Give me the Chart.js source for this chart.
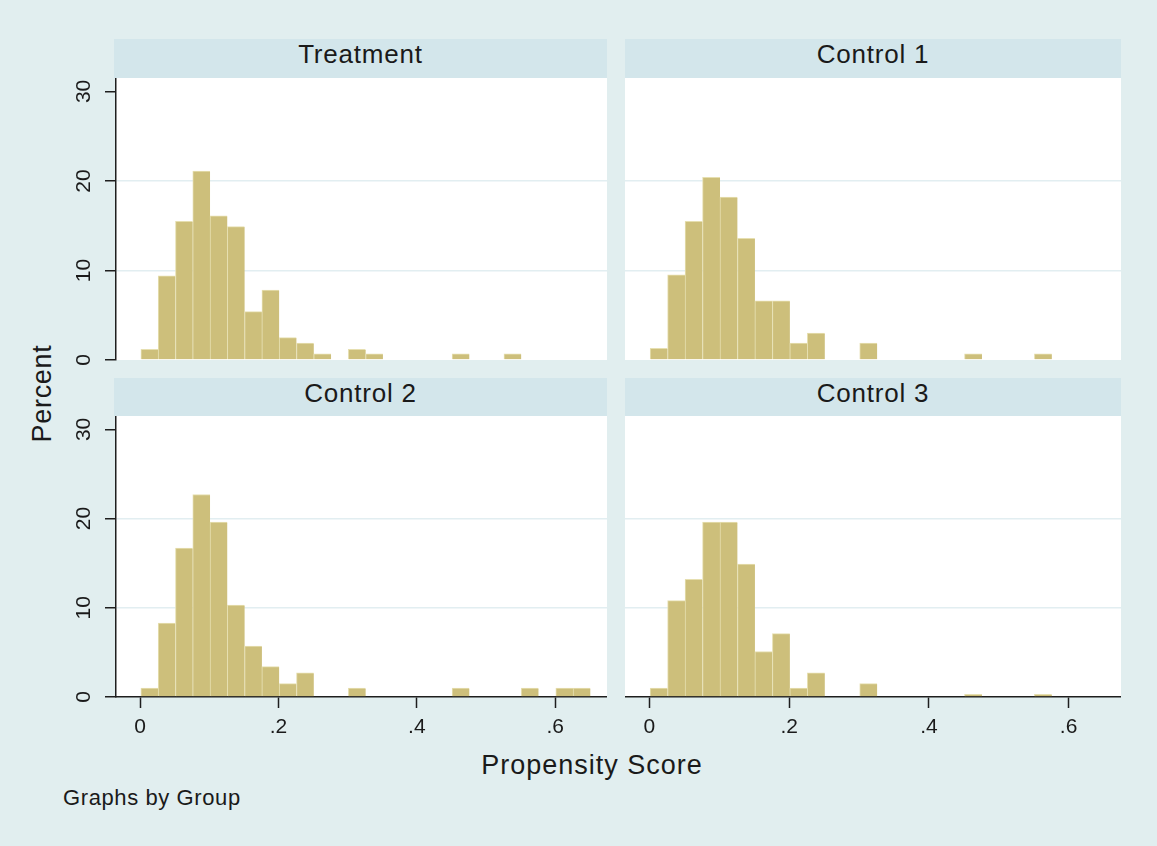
<!DOCTYPE html>
<html>
<head>
<meta charset="utf-8">
<title>Propensity Score by Group</title>
<script src="https://cdn.jsdelivr.net/npm/chart.js@4.4.1/dist/chart.umd.min.js"></script>
<style>
    body { margin: 0; background: #e1eeef; }
    #page {
        position: relative;
        width: 1157px;
        height: 846px;
        background: #e1eeef;
        font-family: 'Liberation Sans', Arial, sans-serif;
        color: #1a1a1a;
        overflow: hidden;
    }
    #page canvas { position: absolute; }
    .strip {
        position: absolute;
        background: #d3e6eb;
        text-align: center;
        font-size: 26px;
        line-height: 26px;
        padding-top: 2px;
        box-sizing: border-box;
        letter-spacing: 0.8px;
    }
    .label { position: absolute; white-space: nowrap; }
    #yTitle {
        left: -18px; top: 380px; width: 120px; text-align: center;
        font-size: 27px; line-height: 27px; letter-spacing: 0.7px;
        transform: rotate(-90deg);
    }
    #xTitle {
        left: 392px; top: 752px; width: 400px; text-align: center;
        font-size: 27px; line-height: 27px; letter-spacing: 1px;
    }
    #note {
        left: 63px; top: 787px;
        font-size: 22px; line-height: 22px; letter-spacing: 0.6px;
    }
</style>
</head>
<body>
<div id="page">
    <div class="label" id="yTitle">Percent</div>
    <div class="label" id="xTitle">Propensity Score</div>
    <div class="label" id="note">Graphs by Group</div>
</div>
<script>
// histogram bins (width .025), percent of group in each bin
const binCenters = [0.0135, 0.0385, 0.0635, 0.0885, 0.1135, 0.1385, 0.1635, 0.1885, 0.2135, 0.2385,
                    0.2635, 0.2885, 0.3135, 0.3385, 0.3635, 0.3885, 0.4135, 0.4385, 0.4635, 0.4885,
                    0.5135, 0.5385, 0.5635, 0.5885, 0.6135, 0.6385];
const treatment = [1.2, 9.4, 15.5, 21.1, 16.1, 14.9, 5.4, 7.8, 2.5, 1.9,
                   0.7, 0, 1.2, 0.7, 0, 0, 0, 0, 0.7, 0,
                   0, 0.7, 0, 0, 0, 0];
const control1 = [1.3, 9.5, 15.5, 20.4, 18.2, 13.6, 6.6, 6.6, 1.9, 3.0,
                  0, 0, 1.9, 0, 0, 0, 0, 0, 0.7, 0,
                  0, 0, 0.7, 0, 0, 0];
const control2 = [1.0, 8.3, 16.7, 22.7, 19.6, 10.3, 5.7, 3.4, 1.5, 2.7,
                  0, 0, 1.0, 0, 0, 0, 0, 0, 1.0, 0,
                  0, 0, 1.0, 0, 1.0, 1.0];
const control3 = [1.0, 10.8, 13.2, 19.6, 19.6, 14.9, 5.1, 7.1, 1.0, 2.7,
                  0, 0, 1.5, 0, 0, 0, 0, 0, 0.3, 0,
                  0, 0, 0.3, 0, 0, 0];
const groupNames = ['Treatment', 'Control 1', 'Control 2', 'Control 3'];
const groupValues = [treatment, control1, control2, control3];
const xTickValues = [0, 0.2, 0.4, 0.6];
const yTickValues = [0, 10, 20, 30];
const yGridValues = [10, 20];

const axisColor = '#1e1e1e';
const gridColor = '#e2eef1';

Chart.defaults.font.family = "'Liberation Sans', Arial, sans-serif";
Chart.defaults.color = '#1a1a1a';

// white plot region behind the bars
const plotBackground = {
    id: 'plotBackground',
    beforeDraw(chart) {
        const { ctx, chartArea: a } = chart;
        ctx.save();
        ctx.fillStyle = '#ffffff';
        ctx.fillRect(a.left, a.top, a.right - a.left, a.bottom - a.top);
        ctx.restore();
    }
};

function drawPanel(index) {
    const page = document.getElementById('page');
    const col = index % 2;
    const row = Math.floor(index / 2);
    const firstCol = col === 0;
    const bottomRow = row === 1;

    const plotLeft = firstCol ? 116 : 625;
    const plotRight = firstCol ? 607 : 1121;
    const plotTop = bottomRow ? 416 : 78;
    const plotHeight = bottomRow ? 281 : 282;
    const axisWidth = firstCol ? 56 : 0;

    const strip = document.createElement('div');
    strip.className = 'strip';
    strip.style.left = (firstCol ? 114 : 625) + 'px';
    strip.style.width = (plotRight - (firstCol ? 114 : 625)) + 'px';
    strip.style.top = (bottomRow ? 378 : 39) + 'px';
    strip.style.height = (bottomRow ? 38 : 39) + 'px';
    strip.textContent = groupNames[index];
    page.appendChild(strip);

    const canvas = document.createElement('canvas');
    canvas.width = plotRight - plotLeft + axisWidth;
    canvas.height = plotHeight + (bottomRow ? 48 : 12);
    canvas.style.left = (plotLeft - axisWidth) + 'px';
    canvas.style.top = plotTop + 'px';
    page.appendChild(canvas);

    const values = groupValues[index];

    new Chart(canvas.getContext('2d'), {
        type: 'bar',
        data: {
            datasets: [{
                data: binCenters.map((x, i) => ({ x: x, y: values[i] })),
                backgroundColor: '#cdbf7b',
                borderColor: '#e6dfb0',
                borderWidth: { top: 1, left: 1, right: 0, bottom: 0 },
                borderSkipped: false,
                barPercentage: 1,
                categoryPercentage: 1
            }]
        },
        options: {
            responsive: false,
            animation: false,
            layout: { padding: { left: 0, right: 0, top: 0, bottom: bottomRow ? 0 : 12 } },
            plugins: {
                legend: { display: false },
                tooltip: { enabled: false }
            },
            scales: {
                x: {
                    type: 'linear',
                    min: -0.035,
                    max: 0.675,
                    offset: false,
                    display: bottomRow,
                    afterBuildTicks: s => { s.ticks = xTickValues.map(v => ({ value: v })); },
                    afterFit: s => {
                        if (bottomRow) s.height = 48;
                        s.paddingLeft = 0;
                        s.paddingRight = 0;
                    },
                    grid: {
                        offset: false,
                        drawOnChartArea: false,
                        tickLength: 11,
                        tickColor: axisColor,
                        tickWidth: 1.5
                    },
                    border: { color: axisColor, width: 1.5 },
                    ticks: {
                        padding: 7,
                        minRotation: 0,
                        maxRotation: 0,
                        font: { size: 21 },
                        callback: v => v === 0 ? '0' : String(v).replace(/^0/, '')
                    }
                },
                y: {
                    min: 0,
                    max: 31.5,
                    afterBuildTicks: s => { s.ticks = yTickValues.map(v => ({ value: v })); },
                    afterFit: s => { s.width = axisWidth; s.paddingTop = 0; s.paddingBottom = 0; },
                    grid: {
                        color: ctx => (ctx.tick && yGridValues.includes(ctx.tick.value)) ? gridColor : 'rgba(0,0,0,0)',
                        lineWidth: 1.5,
                        drawTicks: firstCol,
                        tickLength: 11,
                        tickColor: axisColor,
                        tickWidth: 1.5
                    },
                    border: { display: firstCol, color: axisColor, width: 1.5 },
                    ticks: {
                        display: firstCol,
                        minRotation: 90,
                        maxRotation: 90,
                        crossAlign: 'center',
                        padding: 9,
                        font: { size: 21 }
                    }
                }
            }
        },
        plugins: [plotBackground]
    });
}

groupNames.forEach((name, i) => drawPanel(i));
</script>
</body>
</html>
